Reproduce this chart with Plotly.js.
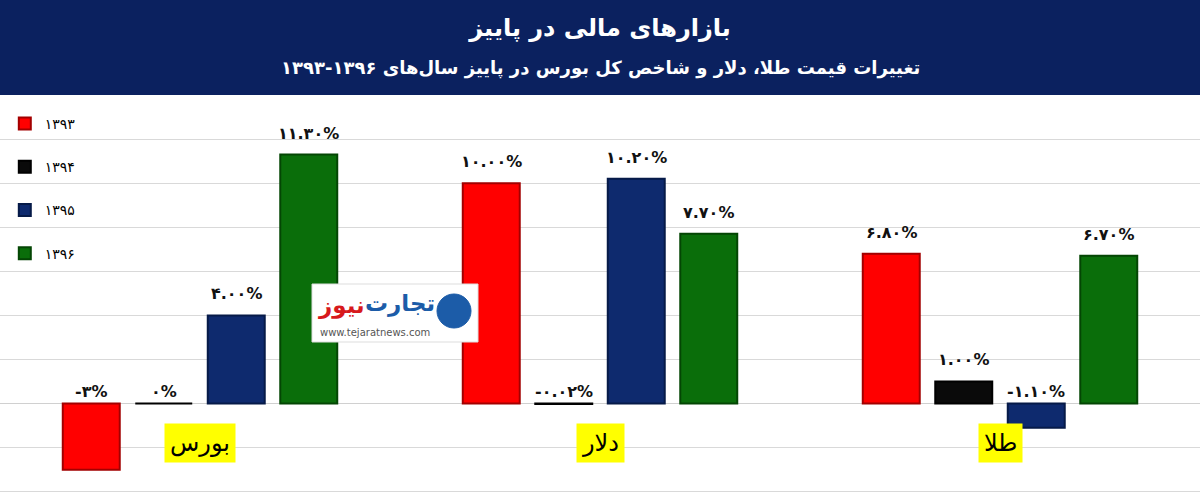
<!DOCTYPE html>
<html>
<head>
<meta charset="utf-8">
<script src="https://cdn.plot.ly/plotly-3.0.1.min.js"></script>
<style>html,body{margin:0;padding:0;background:#fff;}#chart{width:1200px;height:495px;}</style>
</head>
<body>
<div id="chart"></div>
<script>
// ---- data ----
const categories = ['بورس', 'دلار', 'طلا'];
const years = ['۱۳۹۳', '۱۳۹۴', '۱۳۹۵', '۱۳۹۶'];
const values1393 = [-3, 10.0, 6.8];
const values1394 = [0, -0.02, 1.0];
const values1395 = [4.0, 10.2, -1.1];
const values1396 = [11.3, 7.7, 6.7];
const labels1393 = ['-۳%', '۱۰.۰۰%', '۶.۸۰%'];
const labels1394 = ['۰%', '-۰.۰۲%', '۱.۰۰%'];
const labels1395 = ['۴.۰۰%', '۱۰.۲۰%', '-۱.۱۰%'];
const labels1396 = ['۱۱.۳۰%', '۷.۷۰%', '۶.۷۰%'];
const titleText = 'بازارهای مالی در پاییز';
const subtitleText = 'تغییرات قیمت طلا، دلار و شاخص کل بورس در پاییز سال‌های ۱۳۹۶-۱۳۹۳';
const watermarkWords = ['تجارت', 'نیوز'];
const watermarkUrl = 'www.tejaratnews.com';

// ---- styles ----
const FONT = 'DejaVu Sans, Noto Sans, sans-serif';
const fills = ['#ff0000', '#0a0a0a', '#0e2a6e', '#0a6e0a'];
const edges = ['#a30000', '#000000', '#061a48', '#044604'];
const W = 1200, H = 495;
const M = {l: 0, r: 0, t: 95, b: 2};
const bargap = 0.275, bargroupgap = 0.214;

const seriesValues = [values1393, values1394, values1395, values1396];
const seriesLabels = [labels1393, labels1394, labels1395, labels1396];

const traces = seriesValues.map((vals, i) => ({
  type: 'bar',
  name: years[i],
  x: categories,
  y: vals,
  legendgroup: 'g' + i,
  marker: {color: fills[i], line: {color: edges[i], width: 2}},
  hovertemplate: '%{x} ' + years[i] + ': %{y}%<extra></extra>'
}));

const plotW = W - M.l - M.r;
const plotH = H - M.t - M.b;
const slot = (plotW / categories.length) * (1 - bargap) / years.length;
const px2x = p => p / W;
const px2y = p => (H - M.b - p) / plotH;

const annotations = [];
seriesValues.forEach((vals, i) => {
  vals.forEach((v, j) => {
    annotations.push({
      xref: 'x', yref: 'y', x: categories[j], y: Math.max(v, 0), xanchor: 'center',
      xshift: (i - (years.length - 1) / 2) * slot,
      yanchor: 'bottom', yshift: v > 0 ? 10 : 1,
      text: seriesLabels[i][j], showarrow: false,
      font: {family: FONT, size: 16, color: '#111', weight: 'bold'}
    });
  });
});
categories.forEach(c => {
  annotations.push({
    xref: 'x', yref: 'y', x: c, y: -1.8, xanchor: 'center', yanchor: 'middle',
    text: c, showarrow: false, bgcolor: '#ffff00', borderpad: 5,
    font: {family: FONT, size: 24, color: '#000'}
  });
});
// subtitle
annotations.push({
  xref: 'paper', yref: 'paper', x: 0.5, y: 1, xanchor: 'center', yanchor: 'middle', yshift: 27,
  text: subtitleText, showarrow: false,
  font: {family: FONT, size: 18, color: '#ffffff', weight: 'bold'}
});
// watermark
annotations.push({
  xref: 'paper', yref: 'paper', x: px2x(400), y: px2y(303), xanchor: 'center', yanchor: 'middle',
  text: watermarkWords[0], showarrow: false,
  font: {family: FONT, size: 23, color: '#1c5ca8', weight: 'bold'}
});
annotations.push({
  xref: 'paper', yref: 'paper', x: px2x(342), y: px2y(305), xanchor: 'center', yanchor: 'middle',
  text: watermarkWords[1], showarrow: false,
  font: {family: FONT, size: 23, color: '#d7191c', weight: 'bold'}
});
annotations.push({
  xref: 'paper', yref: 'paper', x: px2x(375), y: px2y(332), xanchor: 'center', yanchor: 'middle',
  text: watermarkUrl, showarrow: false,
  font: {family: FONT, size: 10, color: '#555555'}
});

const shapes = [
  {type: 'rect', xref: 'paper', yref: 'paper', x0: 0, x1: 1, ysizemode: 'pixel', yanchor: 1, y0: 0, y1: M.t,
   fillcolor: '#0b215f', line: {width: 0}, layer: 'above'},
  {type: 'rect', xref: 'paper', yref: 'paper', xsizemode: 'pixel', ysizemode: 'pixel',
   xanchor: px2x(395), yanchor: px2y(313), x0: -83, x1: 83, y0: -29, y1: 29,
   fillcolor: '#ffffff', line: {color: '#dddddd', width: 1}, layer: 'above'},
  {type: 'circle', xref: 'paper', yref: 'paper', xsizemode: 'pixel', ysizemode: 'pixel',
   xanchor: px2x(454), yanchor: px2y(311), x0: -17, x1: 17, y0: -17, y1: 17,
   fillcolor: '#1c5ca8', line: {color: '#1c5ca8', width: 1}, layer: 'above'}
];

const layout = {
  width: W, height: H,
  margin: M,
  paper_bgcolor: '#ffffff', plot_bgcolor: '#ffffff',
  barmode: 'group', bargap: bargap, bargroupgap: bargroupgap,
  title: {text: titleText, x: 0.5, xanchor: 'center', y: 1 - 28 / H, yref: 'container', yanchor: 'middle',
          font: {family: FONT, size: 24, color: '#ffffff', weight: 'bold'}},
  xaxis: {type: 'category', showticklabels: false, showgrid: false, zeroline: false, showline: false, fixedrange: true},
  yaxis: {range: [-4.06, 14], dtick: 2, showticklabels: false, showgrid: true, gridcolor: '#d9d9d9', gridwidth: 1,
          zeroline: true, zerolinecolor: '#d0d0d0', zerolinewidth: 1, showline: false, fixedrange: true},
  showlegend: true,
  legend: {x: 0.004, xanchor: 'left', y: px2y(108), yanchor: 'top',
           traceorder: 'grouped', tracegroupgap: 22, bgcolor: 'rgba(0,0,0,0)',
           font: {family: FONT, size: 14, color: '#000'}},
  annotations: annotations,
  shapes: shapes,
  font: {family: FONT}
};

Plotly.newPlot('chart', traces, layout, {displayModeBar: false});
</script>
</body>
</html>
